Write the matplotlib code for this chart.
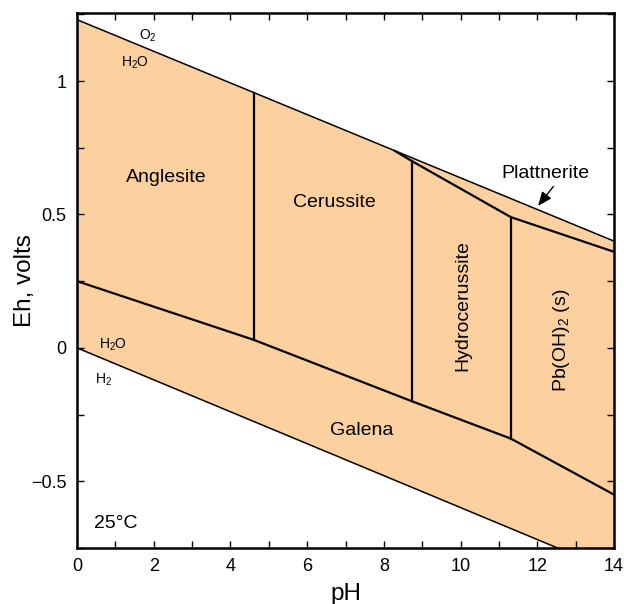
import matplotlib
matplotlib.use("Agg")
import matplotlib.pyplot as plt
from matplotlib.ticker import MultipleLocator

plt.rcParams['font.family'] = ['Liberation Sans', 'DejaVu Sans']
plt.rcParams['mathtext.default'] = 'regular'

# water stability limits (pH, Eh)
o2_ph = [0, 14]
o2_eh = [1.23, 0.40]
h2_ph = [0, 14]
h2_eh = [0.0, -0.838]

# galena upper boundary
gal_ph = [0, 4.61, 8.73, 11.31, 14]
gal_eh = [0.25, 0.03, -0.20, -0.34, -0.55]

# plattnerite lower boundary
plat_ph = [8.29, 8.73, 11.31, 14]
plat_eh = [0.738, 0.70, 0.49, 0.36]

# vertical boundaries: pH, Eh bottom, Eh top
vert_ph = [4.61, 8.73, 11.31]
vert_lo = [0.03, -0.20, -0.34]
vert_hi = [0.957, 0.70, 0.49]

fill_col = '#fdd09f'

fig = plt.figure(figsize=(6.24, 6.04), dpi=100)
ax = fig.add_axes([0.1234, 0.0927, 0.8606, 0.8858])

ax.fill_between(o2_ph, h2_eh, o2_eh, color=fill_col, lw=0)
ax.plot(o2_ph, o2_eh, color='black', lw=1.1)
ax.plot(h2_ph, h2_eh, color='black', lw=1.1)
ax.plot(gal_ph, gal_eh, color='black', lw=1.6)
ax.plot(plat_ph, plat_eh, color='black', lw=1.6)
for p, lo, hi in zip(vert_ph, vert_lo, vert_hi):
    ax.plot([p, p], [lo, hi], color='black', lw=1.6)

ax.set_xlim(0, 14)
ax.set_ylim(-0.75, 1.255)

fs = 14
ax.text(2.33, 0.64, 'Anglesite', fontsize=fs, ha='center', va='center')
ax.text(6.72, 0.545, 'Cerussite', fontsize=fs, ha='center', va='center')
ax.text(10.06, 0.16, 'Hydrocerussite', fontsize=fs, ha='center', va='center', rotation=90)
ax.text(12.63, 0.03, 'Pb(OH)$_2$ (s)', fontsize=fs, ha='center', va='center', rotation=90)
ax.text(7.43, -0.31, 'Galena', fontsize=fs, ha='center', va='center')
ax.text(1.0, -0.66, '25°C', fontsize=fs, ha='center', va='center')
ax.text(12.2, 0.655, 'Plattnerite', fontsize=fs, ha='center', va='center')
ax.annotate('', xy=(12.02, 0.532), xytext=(12.42, 0.605),
            arrowprops=dict(arrowstyle='-|>,head_length=0.6,head_width=0.25',
                            color='black', lw=1.0,
                            shrinkA=0, shrinkB=0, mutation_scale=14))

ax.text(1.85, 1.17, 'O$_2$', fontsize=10, ha='center', va='center')
ax.text(1.5, 1.07, 'H$_2$O', fontsize=10, ha='center', va='center')
ax.text(0.95, 0.01, 'H$_2$O', fontsize=10, ha='center', va='center')
ax.text(0.7, -0.12, 'H$_2$', fontsize=10, ha='center', va='center')

ax.set_xlabel('pH', fontsize=17.5)
ax.set_ylabel('Eh, volts', fontsize=17.5)
ax.xaxis.set_label_coords(0.5, -0.065)
ax.yaxis.set_label_coords(-0.076, 0.5)

ax.xaxis.set_major_locator(MultipleLocator(2))
ax.xaxis.set_minor_locator(MultipleLocator(1))
ax.set_yticks([-0.5, 0, 0.5, 1])
ax.set_yticklabels(['\u22120.5', '0', '0.5', '1'])
ax.yaxis.set_minor_locator(MultipleLocator(0.25))
ax.tick_params(which='both', direction='in', top=True, right=True,
               length=5, width=1, labelsize=13, pad=7.5)
for s in ax.spines.values():
    s.set_linewidth(1.8)

fig.savefig('out.png', dpi=100)
